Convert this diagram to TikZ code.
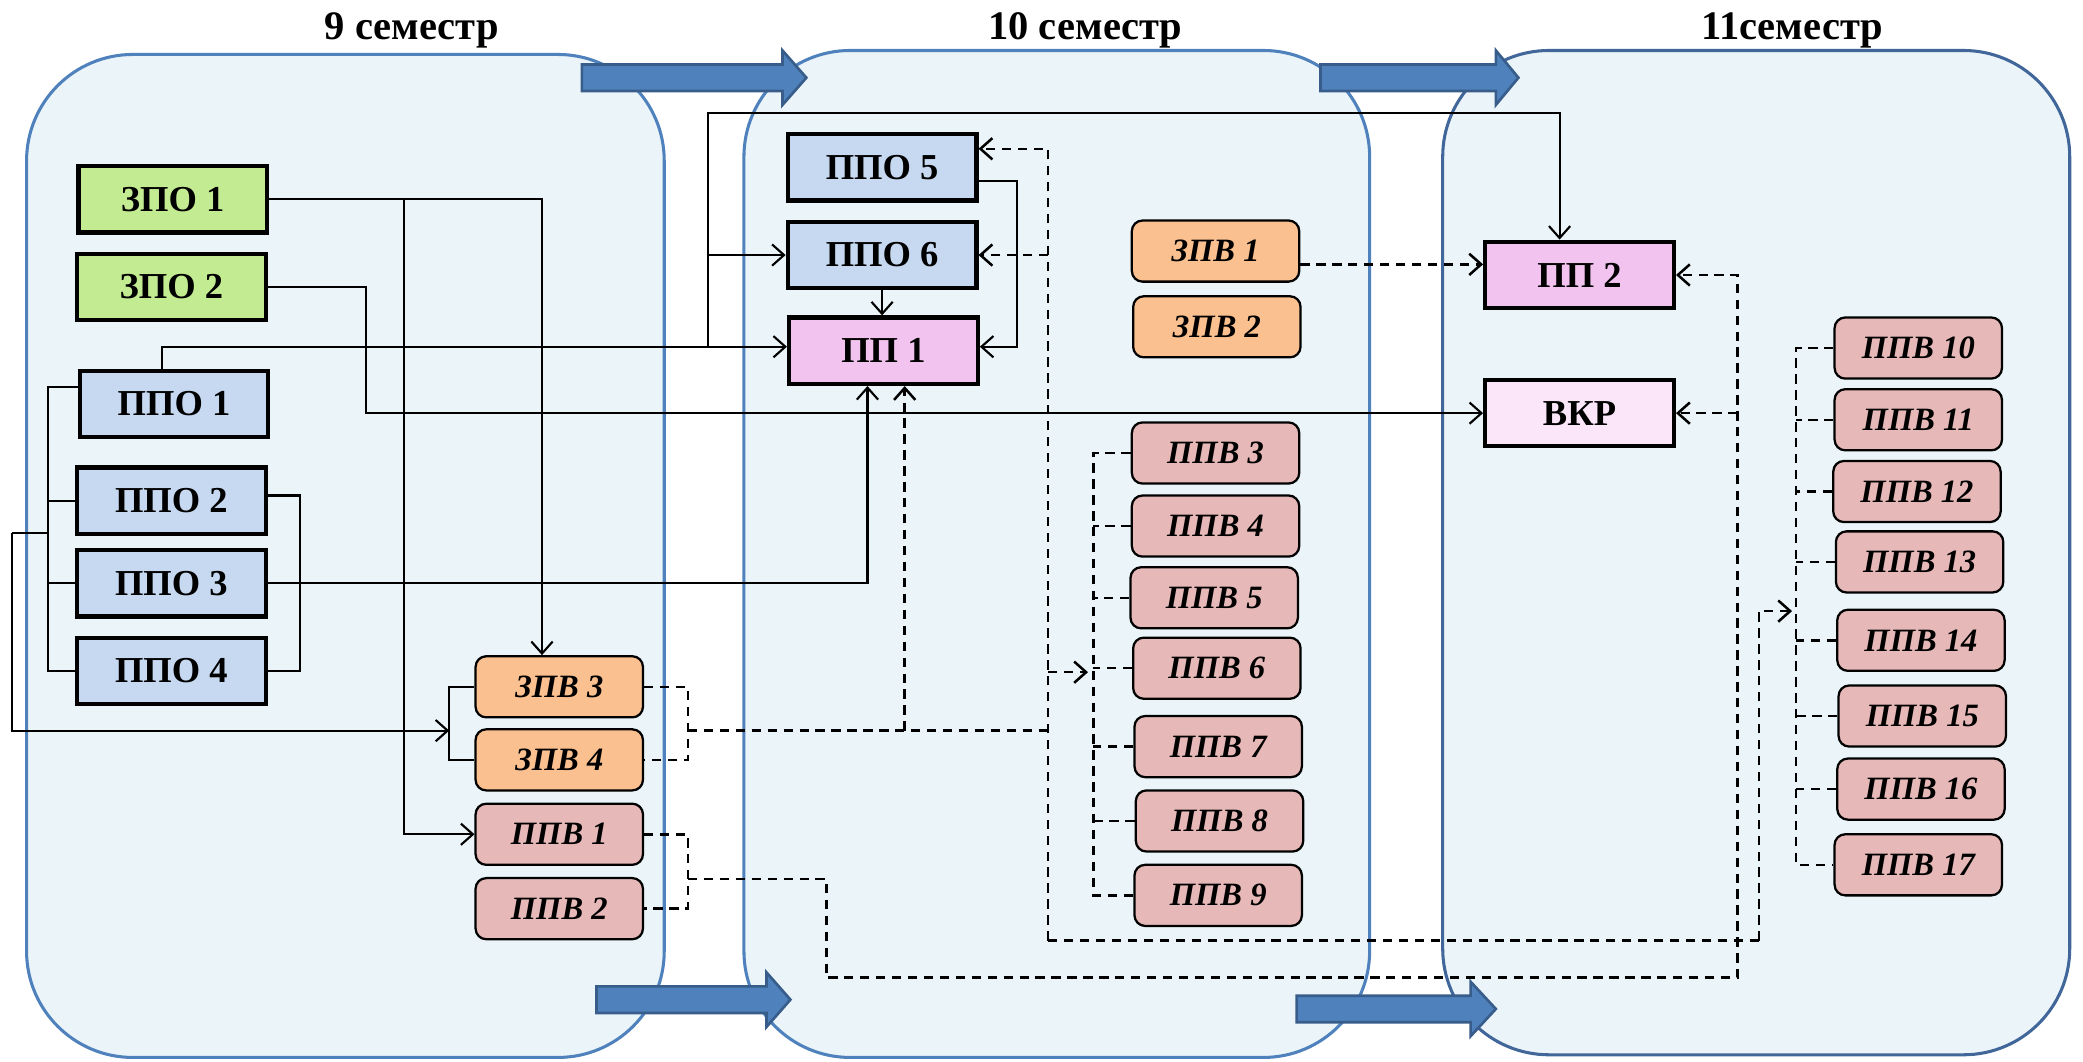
\documentclass[tikz,border=0pt]{standalone}
\usepackage{fontspec}
\setmainfont{Liberation Serif}
\usetikzlibrary{arrows.meta,calc}

\definecolor{contfill}{HTML}{EBF5F9}
\definecolor{contdraw}{HTML}{4F81BD}
\definecolor{contdrawB}{HTML}{41669A}
\definecolor{arrfill}{HTML}{4F81BD}
\definecolor{arrdraw}{HTML}{385D8A}
\definecolor{zpocol}{HTML}{C3EB91}
\definecolor{ppocol}{HTML}{C6D9F1}
\definecolor{ppcol}{HTML}{F2C3EE}
\definecolor{vkrcol}{HTML}{FAE6F8}
\definecolor{zpvcol}{HTML}{FAC08F}
\definecolor{ppvcol}{HTML}{E6B8B7}

\newcommand{\blkarrow}[4]{%
  \draw[barrow] (#1,#4-10) -- (#2,#4-10) -- (#2,#4-20.5) -- (#3,#4) -- (#2,#4+20.5) -- (#2,#4+10) -- (#1,#4+10) -- cycle;}

\begin{document}
\begin{tikzpicture}[x=1pt,y=-1pt,
  cont/.style={fill=contfill,draw=contdraw,line width=2.3pt,rounded corners=80pt},
  barrow/.style={fill=arrfill,draw=arrdraw,line width=2pt,line join=miter},
  sq/.style={draw,line width=3.2pt,minimum width=142pt,minimum height=50pt,inner sep=0pt,
    font=\bfseries\fontsize{27.5}{29}\selectfont},
  rd/.style={draw,line width=1.7pt,rounded corners=8pt,minimum width=126pt,minimum height=46pt,
    inner sep=0pt,fill=ppvcol,font=\bfseries\itshape\fontsize{24.5}{26}\selectfont},
  ttl/.style={anchor=base,font=\bfseries\fontsize{30.5}{32}\selectfont},
  ln/.style={line width=1.6pt},
  dl/.style={line width=1.9pt,dash pattern=on 7pt off 5pt},
  >={Straight Barb[length=9pt,width=16pt]}
]
\fill[white] (0,0) rectangle (1568,799);
\useasboundingbox (0,0) rectangle (1568,799);

% semester containers
\draw[cont] (20,41) rectangle (500,796);
\draw[cont] (560,38) rectangle (1031,796);
\draw[cont,draw=contdrawB] (1086,38) rectangle (1558,794);

% titles
\node[ttl] (t9) at (310,30) {9 семестр};
\node[ttl] (t10) at (817,30) {10 семестр};
\node[ttl] (t11) at (1349,30) {11семестр};

% block arrows
\blkarrow{438}{589}{607}{58.5}
\blkarrow{994}{1126}{1143}{58.5}
\blkarrow{449}{577}{595}{752.5}
\blkarrow{976}{1107}{1126}{759.5}

% rectangular nodes
\node[sq,fill=zpocol] (zpo1) at (130,150) {ЗПО 1};
\node[sq,fill=zpocol] (zpo2) at (129,216) {ЗПО 2};
\node[sq,fill=ppocol] (ppo1) at (131,304) {ППО 1};
\node[sq,fill=ppocol] (ppo2) at (129,377) {ППО 2};
\node[sq,fill=ppocol] (ppo3) at (129,439) {ППО 3};
\node[sq,fill=ppocol] (ppo4) at (129,505) {ППО 4};
\node[sq,fill=ppocol] (ppo5) at (664,126) {ППО 5};
\node[sq,fill=ppocol] (ppo6) at (664,192) {ППО 6};
\node[sq,fill=ppcol] (pp1) at (665,264) {ПП 1};
\node[sq,fill=ppcol] (pp2) at (1189,207) {ПП 2};
\node[sq,fill=vkrcol] (vkr) at (1189,311) {ВКР};

% rounded nodes
\node[rd,fill=zpvcol] (zpv1) at (915,189) {ЗПВ 1};
\node[rd,fill=zpvcol] (zpv2) at (916,246) {ЗПВ 2};
\node[rd,fill=zpvcol] (zpv3) at (421,517) {ЗПВ 3};
\node[rd,fill=zpvcol] (zpv4) at (421,572) {ЗПВ 4};
\node[rd] (ppv1) at (421,628) {ППВ 1};
\node[rd] (ppv2) at (421,684) {ППВ 2};
\node[rd] (ppv3) at (915,341) {ППВ 3};
\node[rd] (ppv4) at (915,396) {ППВ 4};
\node[rd] (ppv5) at (914,450) {ППВ 5};
\node[rd] (ppv6) at (916,503) {ППВ 6};
\node[rd] (ppv7) at (917,562) {ППВ 7};
\node[rd] (ppv8) at (918,618) {ППВ 8};
\node[rd] (ppv9) at (917,674) {ППВ 9};
\node[rd] (ppv10) at (1444,262) {ППВ 10};
\node[rd] (ppv11) at (1444,316) {ППВ 11};
\node[rd] (ppv12) at (1443,370) {ППВ 12};
\node[rd] (ppv13) at (1445,423) {ППВ 13};
\node[rd] (ppv14) at (1446,482) {ППВ 14};
\node[rd] (ppv15) at (1447,539) {ППВ 15};
\node[rd] (ppv16) at (1446,594) {ППВ 16};
\node[rd] (ppv17) at (1444,651) {ППВ 17};

% ---------- solid connectors ----------
\coordinate (j1) at (304,150);
\draw[ln,->] (zpo1.east) -| ([xshift=-13pt]zpv3.north);
\draw[ln,->] (j1) |- (ppv1.west);

\draw[ln,->] (zpo2.east) -- ++(74,0) |- (vkr.west);

\draw[ln,->] ([xshift=-9pt]ppo1.north) |- ([yshift=3pt]pp1.west);
\coordinate (j2) at (533,261);
\coordinate (j3) at (533,85);
\draw[ln,->] (j2) -- (j3) -| ([xshift=-15pt]pp2.north);
\draw[ln,->] (j2 |- ppo6.west) -- (ppo6.west);

\coordinate (lbx) at (36,401);
\coordinate (lbo) at (9,401);
\draw[ln] ([yshift=13pt]ppo1.west) -| (lbx |- ppo4.west) -- (ppo4.west);
\draw[ln] (ppo2.west) -- (ppo2.west -| lbx);
\draw[ln] (ppo3.west) -- (ppo3.west -| lbx);
\draw[ln] (lbx) -- (lbo);
\coordinate (zb) at ($(zpv3.west)!0.6!(zpv4.west)+(-19,0)$);
\draw[ln] (zpv3.west) -- ++(-19,0) |- (zpv4.west);
\draw[ln,->] (lbo) |- (zb);

\draw[ln] ([yshift=4pt]ppo2.east) -- ++(24,0) |- (ppo4.east);
\draw[ln,->] (ppo3.east) -| ([xshift=-12pt]pp1.south);

\draw[ln,->] ([yshift=-10pt]ppo5.east) -- ++(29,0) |- ([yshift=3pt]pp1.east);
\draw[ln,->] (ppo6.south) -- (ppo6.south |- pp1.north);

% ---------- dashed connectors ----------
\draw[dl] (zpv3.east) -- ++(33,0) |- (zpv4.east);
\coordinate (zm) at ($(zpv3.east)!0.6!(zpv4.east)+(33,0)$);
\coordinate (d1) at (789,112);
\coordinate (d2) at (789,708);
\coordinate (d3) at (1324,708);
\coordinate (b1) at (823,506);
\coordinate (b2) at (1352,460);
\draw[dl] (zm) -- (zm -| d1);
\coordinate (pd) at ([xshift=16pt]pp1.south);
\draw[dl,->] (pd |- zm) -- (pd);
\draw[dl,->] (d2) -- (d1) -- (d1 -| ppo5.east);
\draw[dl,->] (ppo6.east -| d1) -- (ppo6.east);
\draw[dl,->] (d1 |- b1) -- ([xshift=-4pt]b1);
\draw[dl] (d2) -- (d3);
\draw[dl,->] (d3) |- ([xshift=-3pt]b2);

\draw[dl] (ppv3.west) -| (b1 |- ppv9.west) -- (ppv9.west);
\foreach \n in {4,...,8} { \draw[dl] (ppv\n.west) -- (ppv\n.west -| b1); }
\draw[dl] (ppv10.west) -| (b2 |- ppv17.west) -- (ppv17.west);
\foreach \n in {11,...,16} { \draw[dl] (ppv\n.west) -- (ppv\n.west -| b2); }

\draw[dl] (ppv1.east) -- ++(33,0) |- (ppv2.east);
\coordinate (pm) at ($(ppv1.east)!0.6!(ppv2.east)+(33,0)$);
\coordinate (e1) at (622,736);
\coordinate (e2) at (1308,736);
\draw[dl,->] (pm) -| (e1) -- (e2) |- (pp2.east);
\draw[dl,->] (e2 |- vkr.east) -- (vkr.east);

\coordinate (z1) at ([yshift=-10pt]zpv1.east);
\draw[dl,->] (z1) -- (z1 -| pp2.west);
\end{tikzpicture}
\end{document}
